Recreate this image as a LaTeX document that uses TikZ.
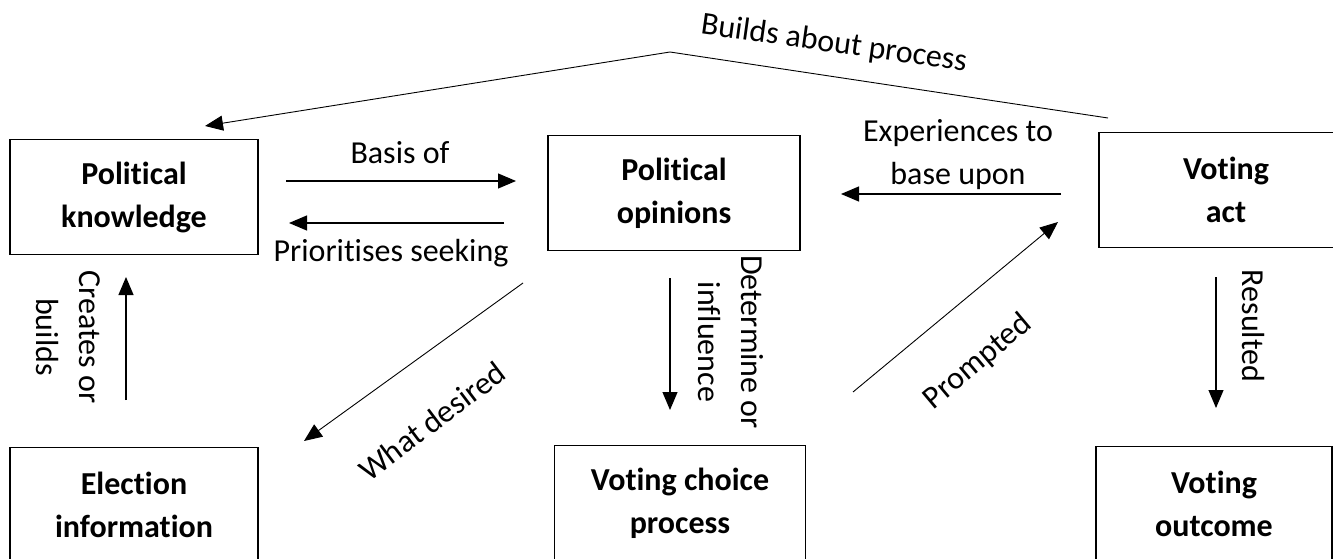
\documentclass[tikz,border=0pt]{standalone}
\usepackage{fontspec}
\setmainfont{Carlito}[Ligatures=CommonOff]
\usetikzlibrary{arrows.meta}
\begin{document}
\begin{tikzpicture}[x=1pt,y=-1pt,
  box/.style={draw, line width=1.6pt, minimum width=248pt, minimum height=115pt, inner sep=0pt, align=center, font=\fontsize{32}{43}\selectfont\bfseries},
  lbl/.style={inner sep=0pt, align=center, font=\fontsize{32}{43}\selectfont},
  arr/.style={line width=1.1pt, -{Triangle[length=18pt,width=15pt]}}]
\useasboundingbox (0,0) rectangle (1333,559);
% boxes
\node[box] (pk) at (134,197) {Political\\knowledge};
\node[box, minimum width=252pt] (po) at (674,193) {Political\\opinions};
\node[box, minimum width=254pt] (va) at (1226,190) {Voting\\act};
\node[box] (ei) at (134,505) {Election\\information};
\node[box, minimum width=251pt] (vc) at (680,503) {Voting choice\\process};
\node[box, minimum width=236pt] (vo) at (1214,504) {Voting\\outcome};
% arrow end points
\coordinate (b1) at (286,181); \coordinate (b2) at (516,181);
\coordinate (p1) at (504,223); \coordinate (p2) at (289,223);
\coordinate (e1) at (1061,194); \coordinate (e2) at (841,194);
\coordinate (t1) at (1108,118); \coordinate (t2) at (670,52); \coordinate (t3) at (205,126);
\coordinate (c1) at (126,400); \coordinate (c2) at (126,277);
\coordinate (w1) at (523,283); \coordinate (w2) at (304,441);
\coordinate (d1) at (670,278); \coordinate (d2) at (670,410);
\coordinate (q1) at (853,392); \coordinate (q2) at (1058,222);
\coordinate (r1) at (1216,277); \coordinate (r2) at (1216,408);
% connectors
\draw[arr] (b1) -- (b2);
\draw[arr] (p1) -- (p2);
\draw[arr] (e1) -- (e2);
\draw[arr, line width=0.9pt] (t1) -- (t2) -- (t3);
\draw[arr] (c1) -- (c2);
\draw[arr, line width=0.9pt] (w1) -- (w2);
\draw[arr] (d1) -- (d2);
\draw[arr, line width=0.9pt] (q1) -- (q2);
\draw[arr] (r1) -- (r2);
% labels
\node[lbl] (lbasis) at (400,153) {Basis of};
\node[lbl] (lprior) at (391,253) {Prioritises seeking};
\node[lbl] (lexp) at (958,155) {Experiences to\\base upon};
\node[lbl, rotate=-8] (lbuild) at (834,44) {Builds about process};
\node[lbl, rotate=-90] (lcreate) at (68,337) {Creates or\\builds};
\node[lbl, rotate=-90] (ldet) at (731,342) {Determine or\\influence};
\node[lbl, rotate=-90] (lres) at (1253,326) {Resulted};
\node[lbl, rotate=37] (lwhat) at (432,421) {What desired};
\node[lbl, rotate=40] (lprom) at (978,362) {Prompted};
\end{tikzpicture}
\end{document}
